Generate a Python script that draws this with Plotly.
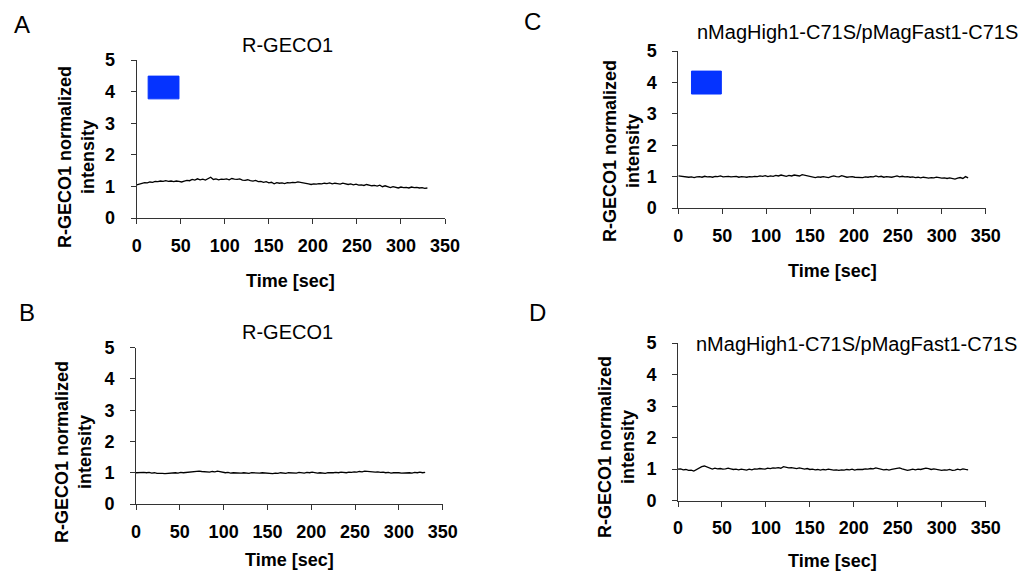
import plotly.graph_objects as go

# ---------------- data (normalized R-GECO1 intensity, sampled every 3 s) ----------------
time_step_sec = 3

panel_a_values = [
    1.05, 1.08, 1.10, 1.12, 1.11, 1.14, 1.13, 1.16, 1.15, 1.17,
    1.16, 1.18, 1.16, 1.17, 1.15, 1.17, 1.16, 1.14, 1.17, 1.19,
    1.18, 1.22, 1.20, 1.24, 1.21, 1.23, 1.20, 1.25, 1.29, 1.22,
    1.24, 1.21, 1.23, 1.22, 1.24, 1.21, 1.25, 1.23, 1.22, 1.24,
    1.20, 1.19, 1.21, 1.18, 1.17, 1.19, 1.15, 1.16, 1.13, 1.15,
    1.11, 1.13, 1.08, 1.12, 1.10, 1.11, 1.09, 1.12, 1.11, 1.13,
    1.12, 1.14, 1.13, 1.12, 1.10, 1.08, 1.06, 1.08, 1.07, 1.09,
    1.08, 1.10, 1.09, 1.11, 1.08, 1.10, 1.09, 1.07, 1.10, 1.08,
    1.06, 1.08, 1.05, 1.07, 1.04, 1.05, 1.03, 1.06, 1.04, 1.02,
    1.03, 1.01, 1.04, 0.99, 1.02, 0.98, 0.96, 0.99, 0.97, 0.95,
    0.98, 0.96, 0.97, 0.95, 0.98, 0.96, 0.97, 0.95, 0.96, 0.94,
    0.95,
]

panel_b_values = [
    1.00, 1.01, 1.02, 1.01, 1.00, 1.01, 0.99, 1.00, 0.98, 0.99,
    0.98, 0.97, 0.98, 0.97, 0.99, 1.00, 0.99, 1.01, 1.00, 1.01,
    1.00, 1.03, 1.04, 1.03, 1.05, 1.04, 1.03, 1.04, 1.02, 1.04,
    1.03, 1.05, 1.03, 1.01, 1.00, 1.01, 0.99, 1.00, 0.99, 1.00,
    0.99, 1.00, 0.99, 0.98, 1.00, 0.99, 0.98, 0.99, 1.00, 0.99,
    0.98, 0.99, 0.97, 0.99, 0.98, 1.00, 0.99, 0.98, 1.00, 0.99,
    1.00, 0.99, 1.01, 1.00, 0.99, 1.01, 1.00, 1.02, 1.00, 0.99,
    1.00, 0.99, 0.98, 1.00, 0.99, 1.00, 1.01, 1.00, 1.02, 1.01,
    1.00, 1.02, 1.01, 1.03, 1.02, 1.04, 1.03, 1.05, 1.04, 1.03,
    1.04, 1.02, 1.03, 1.01, 1.02, 1.00, 1.01, 0.99, 1.00, 1.01,
    1.00, 0.99, 1.00, 1.01, 1.00, 0.99, 1.01, 1.00, 1.02, 1.00,
    1.01,
]

panel_c_values = [
    1.02, 1.01, 0.99, 1.00, 0.98, 0.99, 0.97, 0.99, 1.00, 0.98,
    1.01, 0.99, 1.00, 0.98, 1.01, 1.00, 1.02, 0.99, 1.00, 1.01,
    0.99, 1.00, 1.01, 0.98, 1.00, 0.99, 0.98, 1.00, 0.99, 1.01,
    1.00, 1.02, 1.01, 1.03, 1.00, 1.02, 1.01, 1.04, 1.02, 1.05,
    1.03, 1.01, 1.04, 1.02, 1.05, 1.03, 1.02, 1.06, 1.04, 1.01,
    1.00, 0.98, 0.97, 0.99, 0.98, 1.00, 0.99, 0.97, 1.00, 1.02,
    1.00, 0.99, 1.03, 1.01, 0.98, 0.99, 1.00, 0.98, 0.97, 0.98,
    0.97, 0.99, 0.98, 1.00, 0.99, 1.02, 0.99, 1.01, 0.98, 1.00,
    0.99, 0.98, 1.00, 1.02, 0.99, 1.01, 0.99, 1.00, 0.98, 0.99,
    0.97, 0.98, 0.96, 0.98, 0.97, 0.95, 0.97, 0.96, 0.98, 0.96,
    0.95, 0.96, 0.94, 0.96, 0.93, 0.92, 0.95, 0.97, 0.94, 1.00,
    0.96,
]

panel_d_values = [
    1.00, 1.01, 0.98, 0.99, 0.96, 0.97, 0.94, 0.99, 1.04, 1.08,
    1.10, 1.06, 1.02, 1.00, 1.03, 1.01, 1.02, 1.00, 1.01, 1.03,
    1.01, 0.99, 1.00, 0.98, 1.00, 0.99, 0.97, 1.00, 0.98, 1.01,
    1.00, 1.02, 1.01, 1.00, 1.03, 1.02, 1.04, 1.03, 1.05, 1.03,
    1.08, 1.06, 1.04, 1.05, 1.03, 1.02, 1.04, 1.01, 1.00, 1.02,
    0.99, 1.00, 0.98, 0.99, 0.97, 0.99, 0.98, 1.00, 0.98, 0.97,
    0.98, 0.96, 0.98, 0.97, 0.99, 0.98, 1.00, 0.97, 0.99, 0.98,
    0.99, 1.01, 1.00, 1.02, 1.01, 1.04, 1.02, 1.00, 0.98, 0.99,
    0.97, 0.99, 1.00, 1.02, 1.04, 1.01, 0.99, 0.96, 0.98, 1.00,
    0.98, 1.00, 0.99, 1.01, 1.03, 1.02, 0.99, 1.01, 1.00, 0.98,
    0.96, 0.98, 0.97, 0.99, 0.96, 0.97, 1.00, 0.98, 1.01, 0.99,
    0.98,
]

panel_letters = ["A", "B", "C", "D"]
panel_titles = ["R-GECO1", "R-GECO1", "nMagHigh1-C71S/pMagFast1-C71S", "nMagHigh1-C71S/pMagFast1-C71S"]
x_tick_values = [0, 50, 100, 150, 200, 250, 300, 350]
y_tick_values = [0, 1, 2, 3, 4, 5]
x_title = "Time [sec]"
y_title = "R-GECO1 normalized<br>intensity"

# blue light illumination marker (seconds, intensity units) for panels A and C
light_a = {"t": [13, 48], "y": [3.77, 4.49]}
light_c = {"t": [15, 49], "y": [3.63, 4.36]}

# ---------------- layout helpers ----------------
PAGE_MARGIN = 8          # default <body> margin of the html page
W, H = 1034 - 2 * PAGE_MARGIN, 581 - 2 * PAGE_MARGIN
def px(x):
    return (x - PAGE_MARGIN) / W
def py(y):
    return 1 - (y - PAGE_MARGIN) / H

# plot-area boxes in window pixels (left, right, top, bottom)
boxes = [
    (136.7, 445.0, 60.0, 218.0),    # A
    (136.0, 442.7, 347.7, 504.0),   # B
    (678.3, 985.7, 51.0, 208.0),    # C
    (678.0, 985.7, 343.0, 500.7),   # D
]
series = [panel_a_values, panel_b_values, panel_c_values, panel_d_values]

axis_color = "#333333"
font_family = "Liberation Sans, Arial, sans-serif"

fig = go.Figure()
layout = dict(
    template="none",
    width=W, height=H, autosize=False,
    margin=dict(l=0, r=0, t=0, b=0, pad=0, autoexpand=False),
    paper_bgcolor="white", plot_bgcolor="white",
    showlegend=False,
    font=dict(family=font_family, color="black"),
)

for i, (vals, box) in enumerate(zip(series, boxes)):
    n = "" if i == 0 else str(i + 1)
    xa, ya = "x" + n, "y" + n
    t = [time_step_sec * k for k in range(len(vals))]
    fig.add_trace(go.Scatter(x=t, y=vals, mode="lines", xaxis=xa, yaxis=ya,
                             line=dict(color="black", width=1.3), hoverinfo="skip"))
    l, r, tp, bt = box
    layout["xaxis" + n] = dict(
        domain=[px(l), px(r)], anchor=ya, range=[0, 350], automargin=False,
        tickmode="array", tickvals=x_tick_values,
        showline=True, linecolor=axis_color, linewidth=1,
        ticks="outside", ticklen=5, tickcolor=axis_color,
        tickfont=dict(size=18, weight="bold", family=font_family, color="black"),
        ticklabelstandoff=6,
        showgrid=False, zeroline=False, fixedrange=True,
    )
    layout["yaxis" + n] = dict(
        domain=[py(bt), py(tp)], anchor=xa, range=[0, 5], automargin=False,
        tickmode="array", tickvals=y_tick_values,
        showline=True, linecolor=axis_color, linewidth=1,
        ticks="outside", ticklen=5, tickcolor=axis_color,
        tickfont=dict(size=18, weight="bold", family=font_family, color="black"),
        ticklabelstandoff=12,
        showgrid=False, zeroline=False, fixedrange=True,
    )

fig.update_layout(**layout)

# blue light boxes
for light, (xa, ya) in [(light_a, ("x", "y")), (light_c, ("x3", "y3"))]:
    fig.add_shape(type="rect", xref=xa, yref=ya,
                  x0=light["t"][0], x1=light["t"][1], y0=light["y"][0], y1=light["y"][1],
                  fillcolor="#0533ff", line=dict(color="#0533ff", width=1), layer="above")

ann = []
letter_pos = [(22, 25), (27, 312), (532, 22), (537, 312)]
title_pos = [(287, 45), (287, 332), (857, 32), (856, 344)]
title_size = [20, 20, 20, 20]
ytitle_pos = [(76, 157), (73, 452), (621, 151), (616, 447)]
xtitle_pos = [(290, 281), (289, 560), (832, 271), (832, 561)]
for i in range(4):
    ann.append(dict(text=panel_letters[i], x=px(letter_pos[i][0]), y=py(letter_pos[i][1]),
                    xref="paper", yref="paper", showarrow=False, xanchor="center", yanchor="middle",
                    font=dict(size=24, family=font_family, color="black")))
    ann.append(dict(text=panel_titles[i], x=px(title_pos[i][0]), y=py(title_pos[i][1]),
                    xref="paper", yref="paper", showarrow=False, xanchor="center", yanchor="middle",
                    font=dict(size=title_size[i], family=font_family, color="black")))
    ann.append(dict(text=y_title, x=px(ytitle_pos[i][0]), y=py(ytitle_pos[i][1]),
                    xref="paper", yref="paper", showarrow=False, xanchor="center", yanchor="middle",
                    textangle=-90,
                    font=dict(size=18, weight="bold", family=font_family, color="black")))
    ann.append(dict(text=x_title, x=px(xtitle_pos[i][0]), y=py(xtitle_pos[i][1]),
                    xref="paper", yref="paper", showarrow=False, xanchor="center", yanchor="middle",
                    font=dict(size=18, weight="bold", family=font_family, color="black")))
fig.update_layout(annotations=ann)

fig.write_html("out.html")
